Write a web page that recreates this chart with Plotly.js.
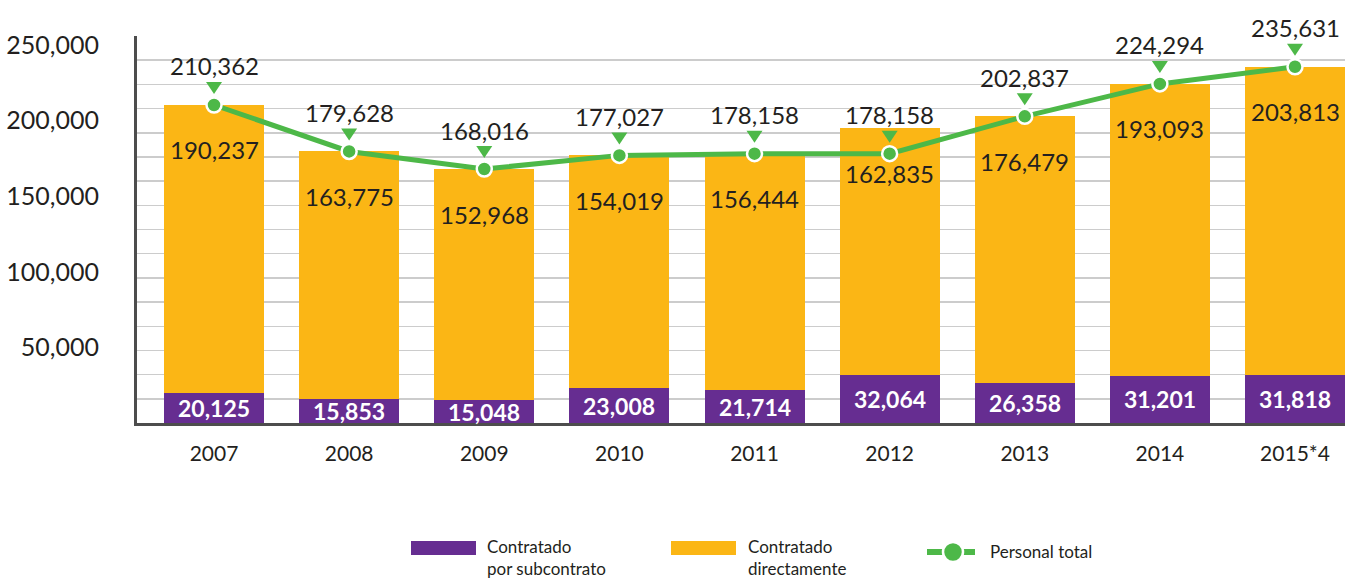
<!DOCTYPE html>
<html>
<head>
<meta charset="utf-8">
<script src="https://cdn.plot.ly/plotly-3.0.1.min.js"></script>
<style>
  html, body { margin: 0; padding: 0; background: #ffffff; }
  #chart { width: 1352px; height: 580px; }
</style>
</head>
<body>
<div id="chart"></div>
<script>
// ---- Data ----
const years = ['2007', '2008', '2009', '2010', '2011', '2012', '2013', '2014', '2015*4'];
const subcontrato = [20125, 15853, 15048, 23008, 21714, 32064, 26358, 31201, 31818];
const directamente = [190237, 163775, 152968, 154019, 156444, 162835, 176479, 193093, 203813];
const personalTotal = [210362, 179628, 168016, 177027, 178158, 178158, 202837, 224294, 235631];
const yTickVals = [50000, 100000, 150000, 200000, 250000];
const seriesNames = ['Contratado por subcontrato', 'Contratado directamente', 'Personal total'];
const legendLabels = ['Contratado<br>por subcontrato', 'Contratado<br>directamente', 'Personal total'];

// ---- Style ----
const PURPLE = '#662d91';
const ORANGE = '#fbb615';
const GREEN = '#4db848';
const TEXT = '#231f20';
const AXIS = '#4d4d4d';
const FONT = 'Lato, "Open Sans", sans-serif';

const fmt = v => v.toLocaleString('en-US');

// plot area in pixels
const L = 137, R = 1345, T = 36, B = 423, W = 1352, H = 580;
const px = x => (x - L) / (R - L);
const py = y => (B - y) / (B - T);

const traces = [
  {
    type: 'bar', name: seriesNames[0], x: years, y: subcontrato,
    marker: { color: PURPLE }, width: 0.74, showlegend: false, hoverinfo: 'x+y'
  },
  {
    type: 'bar', name: seriesNames[1], x: years, y: directamente,
    marker: { color: ORANGE }, width: 0.74, showlegend: false, hoverinfo: 'x+y'
  },
  {
    type: 'scatter', mode: 'lines+markers', name: seriesNames[2], x: years, y: personalTotal,
    line: { color: GREEN, width: 5 },
    marker: { color: GREEN, size: 15, line: { color: '#ffffff', width: 2.5 } },
    cliponaxis: false, showlegend: false
  }
];

const annotations = [];
const shapes = [];
years.forEach((yr, i) => {
  // category index i (year strings like '2007' would be read as numbers)
  annotations.push({
    x: i, y: subcontrato[i] / 2, text: '<b>' + fmt(subcontrato[i]) + '</b>',
    showarrow: false, yanchor: 'middle',
    font: { family: FONT, size: 23, color: '#ffffff' }
  });
  annotations.push({
    x: i, y: subcontrato[i] + directamente[i], text: fmt(directamente[i]),
    showarrow: false, yanchor: 'middle', yshift: -45,
    font: { family: FONT, size: 24, color: TEXT }
  });
  annotations.push({
    x: i, y: personalTotal[i], text: fmt(personalTotal[i]),
    showarrow: false, yanchor: 'middle', yshift: 39,
    font: { family: FONT, size: 24, color: TEXT }
  });
  // green downward triangle just above each line point (pixel-sized, anchored at the data point)
  shapes.push({
    type: 'path', xref: 'x', yref: 'y', xsizemode: 'pixel', ysizemode: 'pixel',
    xanchor: i, yanchor: personalTotal[i],
    path: 'M-8,23 L8,23 L0,11 Z', fillcolor: GREEN, line: { width: 0 }
  });
});

// ---- Custom legend (bottom) ----
shapes.push(
  { type: 'rect', xref: 'paper', yref: 'paper', x0: px(411), x1: px(476), y0: py(555), y1: py(541),
    fillcolor: PURPLE, line: { width: 0 } },
  { type: 'rect', xref: 'paper', yref: 'paper', x0: px(671), x1: px(736), y0: py(555), y1: py(541),
    fillcolor: ORANGE, line: { width: 0 } },
  { type: 'line', xref: 'paper', yref: 'paper', x0: px(927), x1: px(975), y0: py(552), y1: py(552),
    line: { color: GREEN, width: 6 } },
  { type: 'circle', xref: 'paper', yref: 'paper', x0: px(943), x1: px(963), y0: py(562), y1: py(542),
    fillcolor: GREEN, line: { color: '#ffffff', width: 2.5 } }
);
const legendX = [486, 747, 989];
const legendY = [557, 557, 551];
legendLabels.forEach((t, k) => {
  annotations.push({
    xref: 'paper', yref: 'paper', x: px(legendX[k]), y: py(legendY[k]),
    xanchor: 'left', yanchor: 'middle', align: 'left', text: t, showarrow: false,
    borderpad: 0,
    font: { family: FONT, size: 17, color: TEXT }
  });
});

const layout = {
  width: W, height: H,
  margin: { l: L, r: W - R, t: T, b: H - B, pad: 0 },
  paper_bgcolor: '#ffffff', plot_bgcolor: '#ffffff',
  barmode: 'stack',
  showlegend: false,
  font: { family: FONT, color: TEXT },
  xaxis: {
    type: 'category', range: [-0.57, 8.37],
    showline: true, linecolor: AXIS, linewidth: 3,
    showgrid: false, zeroline: false, ticks: '', ticklabelstandoff: 10,
    tickfont: { family: FONT, size: 21, color: TEXT }
  },
  yaxis: {
    range: [0, 256000],
    tickmode: 'array', tickvals: yTickVals, tickformat: ',',
    showline: true, linecolor: AXIS, linewidth: 3,
    showgrid: false, zeroline: false, ticks: '', ticklabelstandoff: 30,
    tickfont: { family: FONT, size: 25, color: TEXT },
    minor: { tickmode: 'linear', tick0: 0, dtick: 16000, showgrid: true, gridcolor: '#cccccc', gridwidth: 1.5, ticks: '' }
  },
  shapes: shapes,
  annotations: annotations
};

Plotly.newPlot('chart', traces, layout, { displayModeBar: false, staticPlot: true });
</script>
</body>
</html>
